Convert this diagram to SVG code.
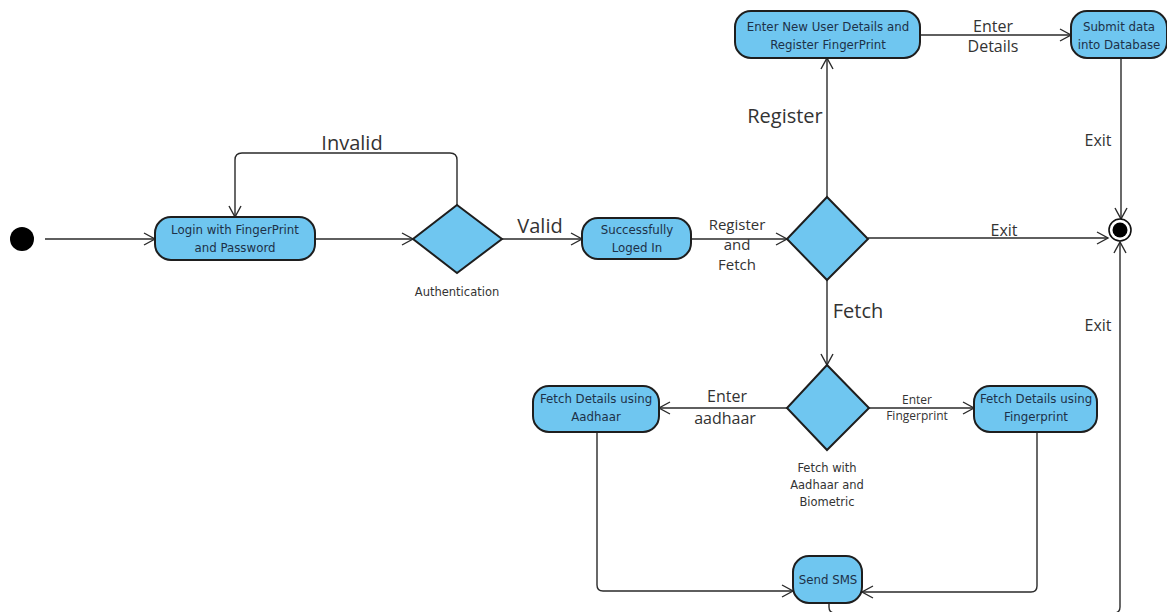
<svg xmlns="http://www.w3.org/2000/svg" width="1167" height="612" viewBox="0 0 1167 612">
<style>
.node{fill:#6fc6f0;stroke:#1e1e1e;stroke-width:2}
.nt{font-family:"DejaVu Sans","Liberation Sans",sans-serif;font-size:11.8px;fill:#1d3148;text-anchor:middle}
.lbl{font-family:"Open Sans","DejaVu Sans",sans-serif;fill:#333;text-anchor:middle}
.cap{font-family:"DejaVu Sans","Liberation Sans",sans-serif;font-size:11.5px;fill:#333;text-anchor:middle}
.edge{fill:none;stroke:#2a2a2a;stroke-width:1.4;marker-end:url(#arr)}
</style>
<defs>
<marker id="arr" markerUnits="userSpaceOnUse" markerWidth="14" markerHeight="14" refX="12" refY="7" orient="auto">
<path d="M1,1 L12,7 L1,13" fill="none" stroke="#2a2a2a" stroke-width="1.4"/>
</marker>
</defs>
<rect width="1167" height="612" fill="#ffffff"/>

<g id="connectors">
<path class="edge" d="M45,239 H155"/>
<path class="edge" d="M315,239 H413"/>
<path class="edge" d="M457,205 V160 Q457,153 450,153 H242 Q235,153 235,160 V217"/>
<path class="edge" d="M502,239 H582"/>
<path class="edge" d="M691,239 H787"/>
<path class="edge" d="M827,197 V58"/>
<path class="edge" d="M920,35 H1071"/>
<path class="edge" d="M1121,58 V219"/>
<path class="edge" d="M868,238 H1108"/>
<path class="edge" d="M827,280 V365"/>
<path class="edge" d="M787,408 H659"/>
<path class="edge" d="M869,408 H974"/>
<path class="edge" d="M597,432 V585 Q597,591 603,591 H793"/>
<path class="edge" d="M1037,432 V586 Q1037,592 1031,592 H862"/>
<path class="edge" d="M829,603 V607 Q829,613 835,613 H1114 Q1120,613 1120,607 V242"/>
<text class="lbl" x="352" y="150" font-size="20">Invalid</text>
<text class="lbl" x="540" y="233" font-size="20">Valid</text>
<text class="lbl" x="737" y="230" font-size="15">Register</text>
<text class="lbl" x="737" y="250" font-size="15">and</text>
<text class="lbl" x="737" y="270" font-size="15">Fetch</text>
<text class="lbl" x="785" y="123" font-size="20">Register</text>
<text class="lbl" x="858" y="318" font-size="20">Fetch</text>
<text class="lbl" x="993" y="32" font-size="16">Enter</text>
<text class="lbl" x="993" y="52" font-size="16">Details</text>
<text class="lbl" x="1098" y="146" font-size="16">Exit</text>
<text class="lbl" x="1004" y="236" font-size="16">Exit</text>
<text class="lbl" x="1098" y="331" font-size="16">Exit</text>
<text class="lbl" x="727" y="402" font-size="16">Enter</text>
<text class="lbl" x="725" y="424" font-size="16">aadhaar</text>
<text class="lbl" x="917" y="404" font-size="12">Enter</text>
<text class="lbl" x="917" y="420" font-size="12">Fingerprint</text>
</g>

<g id="start"><circle cx="22" cy="239" r="12" fill="#000"/></g>

<g id="login">
<rect class="node" x="155" y="217" width="160" height="43" rx="16"/>
<text class="nt" x="235" y="234">Login with FingerPrint</text>
<text class="nt" x="235" y="252">and Password</text>
</g>

<g id="authentication">
<polygon class="node" points="457,205 502,239 457,273 413,239"/>
<text class="cap" x="457" y="296">Authentication</text>
</g>

<g id="logged-in">
<rect class="node" x="582" y="218" width="109" height="41" rx="16"/>
<text class="nt" x="637" y="234">Successfully</text>
<text class="nt" x="637" y="252">Loged In</text>
</g>

<g id="decision-main">
<polygon class="node" points="827,197 868,239 827,280 787,239"/>
</g>

<g id="register">
<rect class="node" x="735" y="11" width="185" height="47" rx="16"/>
<text class="nt" x="828" y="31">Enter New User Details and</text>
<text class="nt" x="828" y="49">Register FingerPrint</text>
</g>

<g id="submit">
<rect class="node" x="1071" y="11" width="96" height="47" rx="16"/>
<text class="nt" x="1119" y="31">Submit data</text>
<text class="nt" x="1119" y="49">into Database</text>
</g>

<g id="final">
<circle cx="1120" cy="230" r="11" fill="#fff" stroke="#111" stroke-width="1.6"/>
<circle cx="1120" cy="230" r="7.5" fill="#000"/>
</g>

<g id="decision-fetch">
<polygon class="node" points="827,365 869,408 827,450 787,408"/>
<text class="cap" x="827" y="472">Fetch with</text>
<text class="cap" x="827" y="489">Aadhaar and</text>
<text class="cap" x="827" y="506">Biometric</text>
</g>

<g id="fetch-aadhaar">
<rect class="node" x="533" y="386" width="126" height="46" rx="16"/>
<text class="nt" x="596" y="403">Fetch Details using</text>
<text class="nt" x="596" y="421">Aadhaar</text>
</g>

<g id="fetch-fingerprint">
<rect class="node" x="974" y="386" width="123" height="46" rx="16"/>
<text class="nt" x="1036" y="403">Fetch Details using</text>
<text class="nt" x="1036" y="421">Fingerprint</text>
</g>

<g id="send-sms">
<rect class="node" x="793" y="556" width="69" height="47" rx="16"/>
<text class="nt" x="828" y="584">Send SMS</text>
</g>
</svg>
